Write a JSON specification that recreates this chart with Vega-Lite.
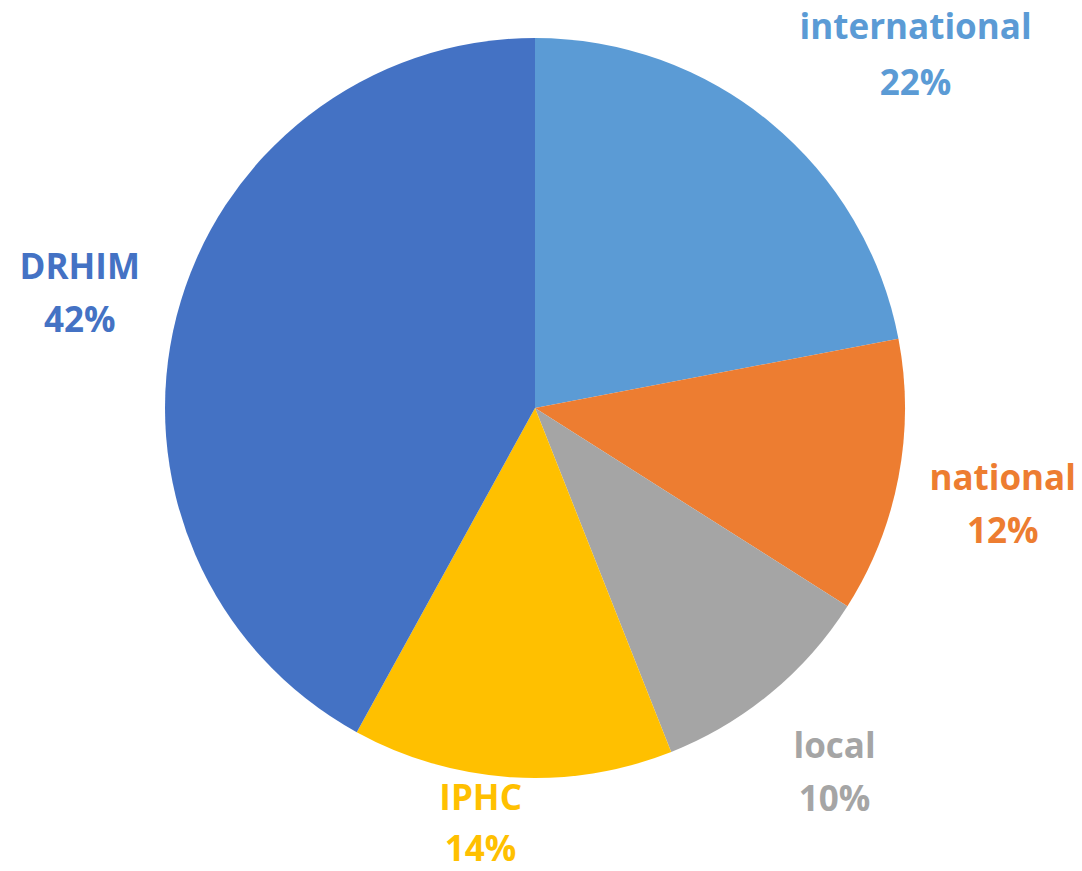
{
  "$schema": "https://vega.github.io/schema/vega-lite/v6.json",
  "autosize": "none",
  "width": 1070,
  "height": 816,
  "padding": {"left": 0, "top": 0, "right": 12, "bottom": 55},
  "background": "white",
  "config": {"view": {"stroke": null}},
  "data": {
    "values": [
      {"label": "international", "share": 0.22, "order": 1},
      {"label": "national", "share": 0.12, "order": 2},
      {"label": "local", "share": 0.10, "order": 3},
      {"label": "IPHC", "share": 0.14, "order": 4},
      {"label": "DRHIM", "share": 0.42, "order": 5}
    ]
  },
  "encoding": {
    "theta": {"field": "share", "type": "quantitative", "stack": true},
    "order": {"field": "order", "type": "quantitative"},
    "color": {
      "field": "label",
      "type": "nominal",
      "scale": {
        "domain": ["international", "national", "local", "IPHC", "DRHIM"],
        "range": ["#5B9BD5", "#ED7D31", "#A5A5A5", "#FFC000", "#4472C4"]
      },
      "legend": null
    }
  },
  "layer": [
    {"mark": {"type": "arc", "outerRadius": 370}},
    {
      "mark": {"type": "text", "radius": 470, "dy": -23, "font": "Open Sans", "fontSize": 35, "fontWeight": "bold"},
      "encoding": {"text": {"condition": {"test": "indexof(['local','DRHIM'], datum.label) >= 0", "field": "label"}, "value": ""}}
    },
    {
      "mark": {"type": "text", "radius": 470, "dy": 30, "font": "Open Sans", "fontSize": 35, "fontWeight": "bold"},
      "encoding": {"text": {"condition": {"test": "indexof(['local','DRHIM'], datum.label) >= 0", "field": "share", "format": ".0%"}, "value": ""}}
    },
    {
      "mark": {"type": "text", "radius": 470, "dx": 6, "dy": -17, "font": "Open Sans", "fontSize": 35, "fontWeight": "bold"},
      "encoding": {"text": {"condition": {"test": "datum.label === 'national'", "field": "label"}, "value": ""}}
    },
    {
      "mark": {"type": "text", "radius": 470, "dx": 6, "dy": 36, "font": "Open Sans", "fontSize": 35, "fontWeight": "bold"},
      "encoding": {"text": {"condition": {"test": "datum.label === 'national'", "field": "share", "format": ".0%"}, "value": ""}}
    },
    {
      "mark": {"type": "text", "radius": 470, "dx": 81, "dy": -18, "font": "Open Sans", "fontSize": 35, "fontWeight": "bold"},
      "encoding": {"text": {"condition": {"test": "datum.label === 'international'", "field": "label"}, "value": ""}}
    },
    {
      "mark": {"type": "text", "radius": 470, "dx": 81, "dy": 38, "font": "Open Sans", "fontSize": 35, "fontWeight": "bold"},
      "encoding": {"text": {"condition": {"test": "datum.label === 'international'", "field": "share", "format": ".0%"}, "value": ""}}
    },
    {
      "mark": {"type": "text", "radius": 420, "dx": -28, "dy": -28, "font": "Open Sans", "fontSize": 35, "fontWeight": "bold"},
      "encoding": {"text": {"condition": {"test": "datum.label === 'IPHC'", "field": "label"}, "value": ""}}
    },
    {
      "mark": {"type": "text", "radius": 420, "dx": -28, "dy": 23, "font": "Open Sans", "fontSize": 35, "fontWeight": "bold"},
      "encoding": {"text": {"condition": {"test": "datum.label === 'IPHC'", "field": "share", "format": ".0%"}, "value": ""}}
    }
  ]
}
